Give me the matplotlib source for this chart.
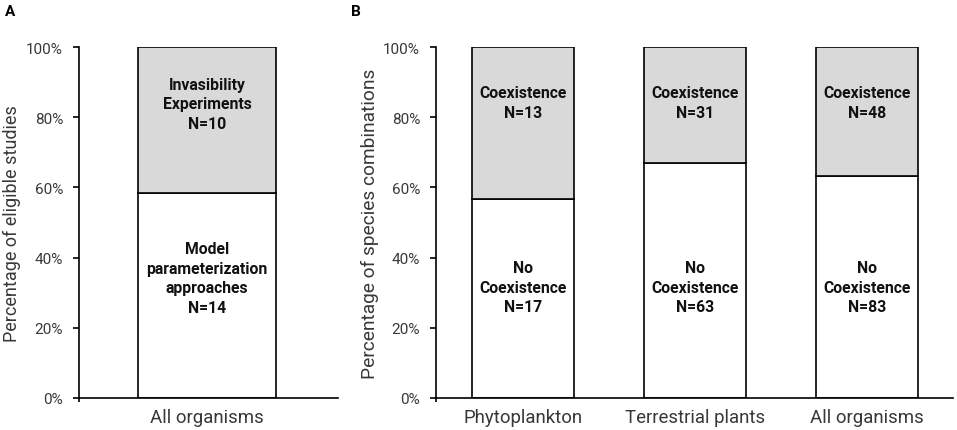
import matplotlib
matplotlib.use('Agg')
import matplotlib.pyplot as plt
from matplotlib.ticker import PercentFormatter

plt.rcParams['font.family'] = ['Roboto', 'DejaVu Sans']

# pannello A: studi ammissibili
cat_a = ['All organisms']
model_n = [14]
invas_n = [10]

# pannello B: combinazioni di specie
cat_b = ['Phytoplankton', 'Terrestrial plants', 'All organisms']
nocoex_n = [17, 63, 83]
coex_n = [13, 31, 48]

W, H = 957, 431
fig = plt.figure(figsize=(W / 100, H / 100), dpi=100)

def axes_px(l, r, t, b):
    return fig.add_axes([l / W, 1 - b / H, (r - l) / W, (b - t) / H])

ax_a = axes_px(79, 338, 48, 399)
ax_b = axes_px(436, 953, 48, 399)

gray = '#d9d9d9'
tick_col = '#383838'
lab_kw = dict(ha='center', va='center', fontsize=11.3, fontweight='bold',
              linespacing=1.4, color='#111111')

def style(ax, xlim):
    ax.set_xlim(*xlim)
    ax.set_ylim(0, 100)
    ax.set_yticks(range(0, 101, 20))
    ax.yaxis.set_major_formatter(PercentFormatter(decimals=0))
    for s in ['top', 'right']:
        ax.spines[s].set_visible(False)
    for s in ['left', 'bottom']:
        ax.spines[s].set_linewidth(1.2)
    ax.tick_params(axis='y', length=4.5, width=1.2, labelsize=11, labelcolor=tick_col, pad=7)
    ax.tick_params(axis='x', length=0, labelsize=13.4, labelcolor=tick_col, pad=7)
    ax.set_xticks([xlim[0]], minor=True)
    ax.tick_params(axis='x', which='minor', length=3, width=1.2)

# --- A ---
tot_a = [m + i for m, i in zip(model_n, invas_n)]
pa_low = [100 * m / t for m, t in zip(model_n, tot_a)]
pa_up = [100 * i / t for i, t in zip(invas_n, tot_a)]
xa = list(range(len(cat_a)))
ax_a.bar(xa, pa_low, width=1.0, color='white', edgecolor='black', linewidth=1.2, zorder=2)
ax_a.bar(xa, pa_up, width=1.0, bottom=pa_low, color=gray, edgecolor='black', linewidth=1.2, zorder=2)
style(ax_a, (-0.93, 0.95))
ax_a.set_xticks(xa)
ax_a.set_xticklabels(cat_a)
for x, m, i in zip(xa, model_n, invas_n):
    ax_a.text(x, 83.8, 'Invasibility\nExperiments\nN=%d' % i, **lab_kw)
    ax_a.text(x, 34.2, 'Model\nparameterization\napproaches\nN=%d' % m, **lab_kw)
ax_a.set_ylabel('Percentage of eligible studies', fontsize=13.0, color=tick_col, labelpad=4)

# --- B ---
tot_b = [n + c for n, c in zip(nocoex_n, coex_n)]
pb_low = [100 * n / t for n, t in zip(nocoex_n, tot_b)]
pb_up = [100 * c / t for c, t in zip(coex_n, tot_b)]
xb = list(range(len(cat_b)))
ax_b.bar(xb, pb_low, width=0.593, color='white', edgecolor='black', linewidth=1.2, zorder=2)
ax_b.bar(xb, pb_up, width=0.593, bottom=pb_low, color=gray, edgecolor='black', linewidth=1.2, zorder=2)
style(ax_b, (-0.506, 2.5))
ax_b.set_xticks(xb)
ax_b.set_xticklabels(cat_b)
for x, n, c in zip(xb, nocoex_n, coex_n):
    ax_b.text(x, 84.3, 'Coexistence\nN=%d' % c, **lab_kw)
    ax_b.text(x, 31.6, 'No\nCoexistence\nN=%d' % n, **lab_kw)
ax_b.set_ylabel('Percentage of species combinations', fontsize=13.8, color=tick_col, labelpad=3)

fig.text(5 / W, 1 - 12 / H, 'A', fontsize=11, fontweight='bold', va='center', ha='left')
fig.text(351 / W, 1 - 12 / H, 'B', fontsize=11, fontweight='bold', va='center', ha='left')

fig.savefig('out.png', dpi=100)
